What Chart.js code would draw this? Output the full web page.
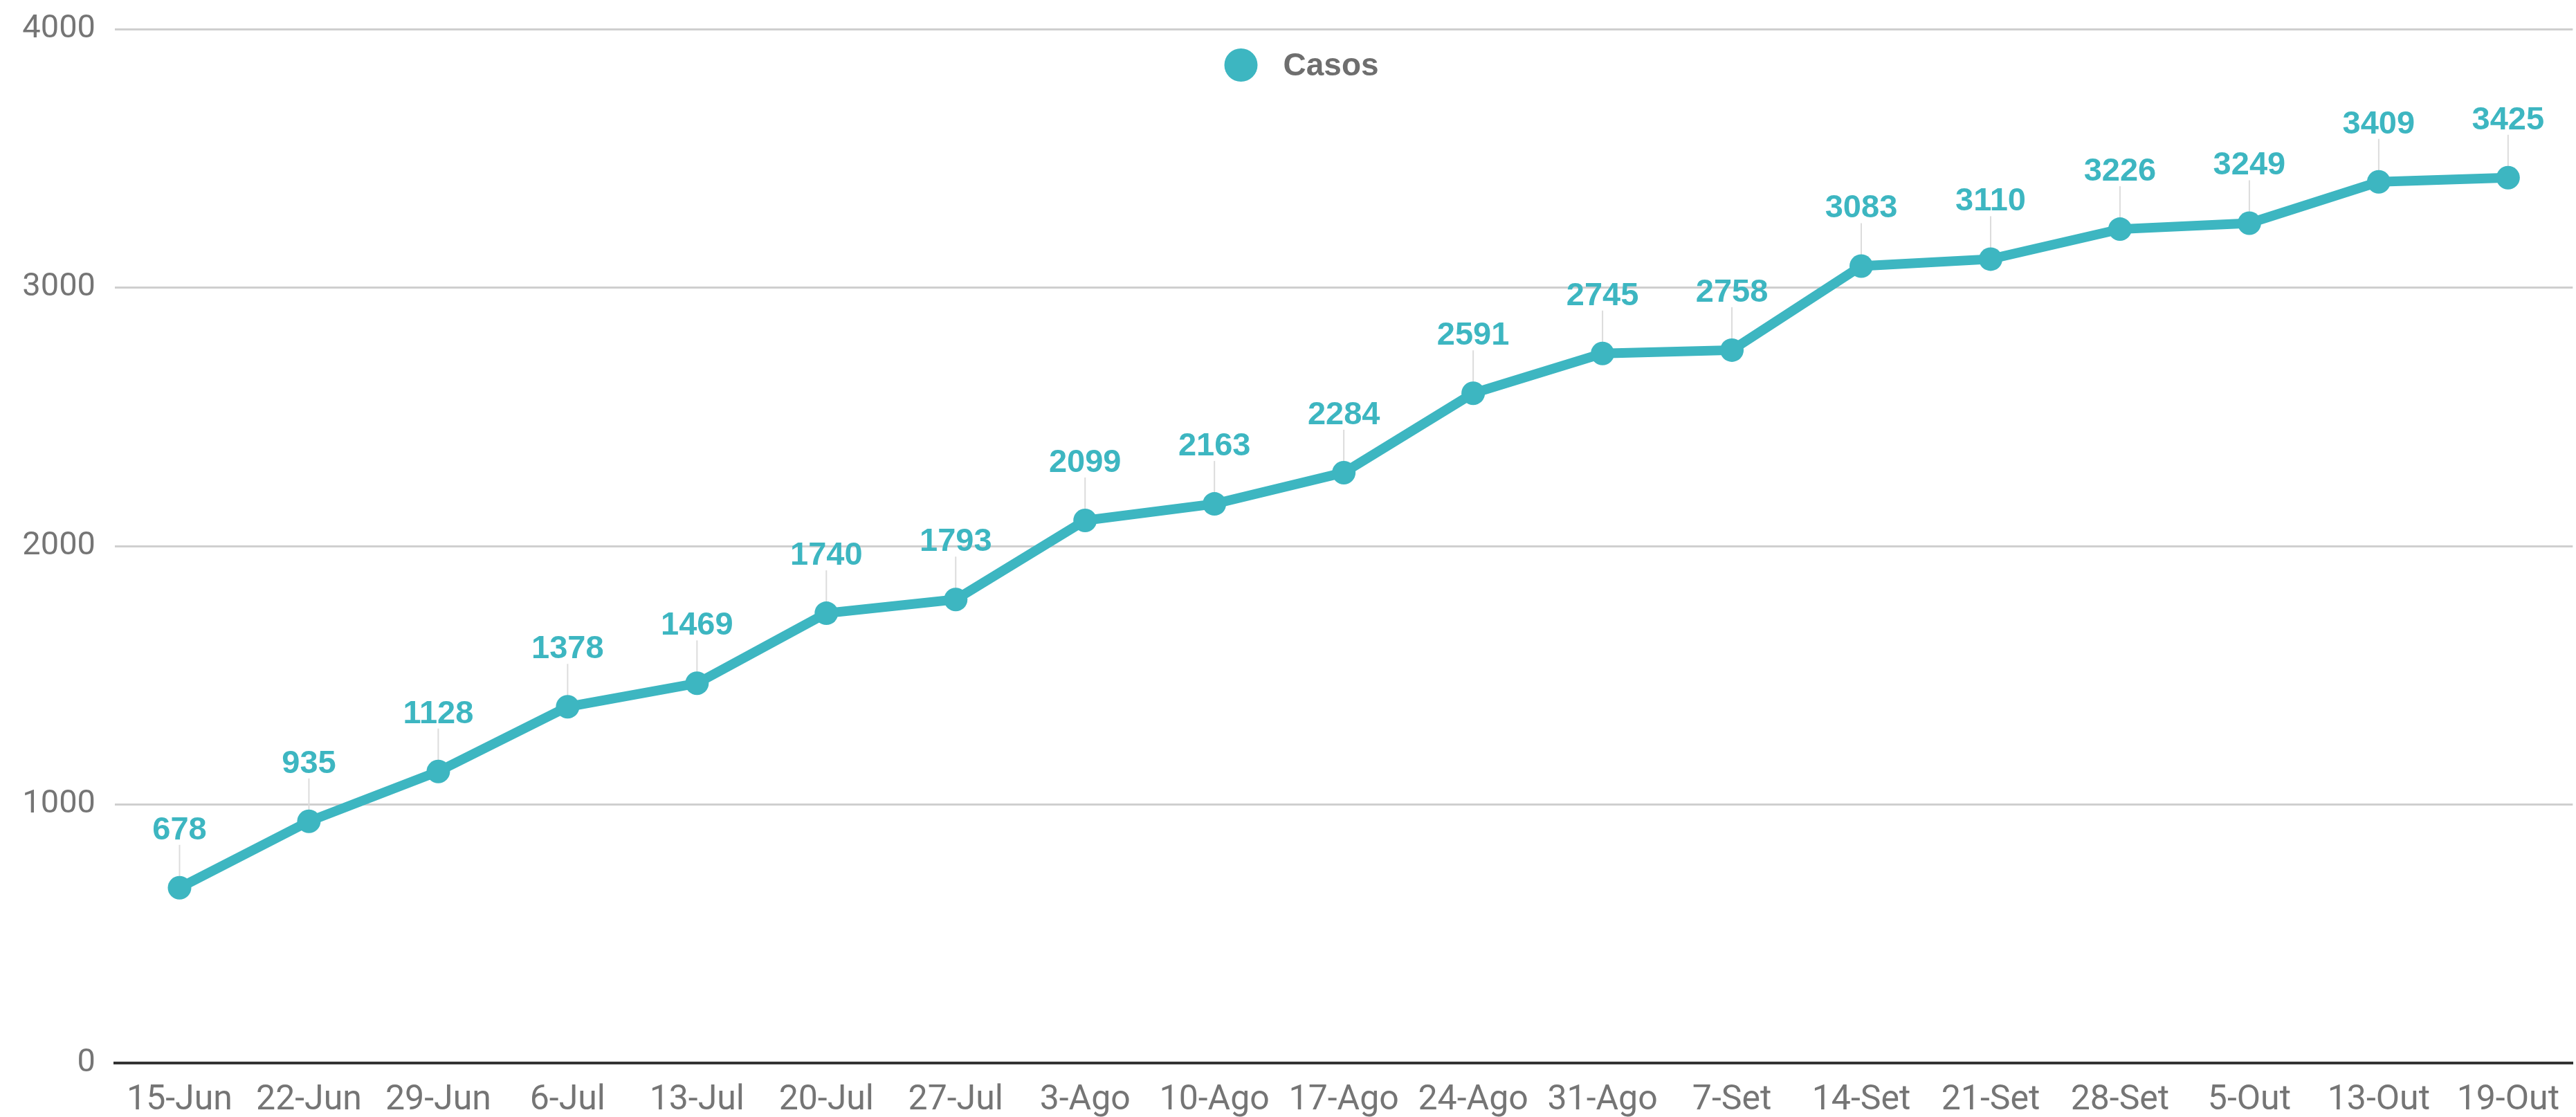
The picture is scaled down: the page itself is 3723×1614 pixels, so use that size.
<!DOCTYPE html>
<html>
<head>
<meta charset="utf-8">
<script src="https://cdn.jsdelivr.net/npm/chart.js@4.4.1/dist/chart.umd.min.js"></script>
<style>
  html, body { margin: 0; padding: 0; background: #fff; }
  #wrap { width: 3723px; height: 1614px; position: relative; }
</style>
</head>
<body>
<div id="wrap"><canvas id="casosChart"></canvas></div>
<script>
const semanas = ["15-Jun", "22-Jun", "29-Jun", "6-Jul", "13-Jul", "20-Jul", "27-Jul", "3-Ago", "10-Ago", "17-Ago",
  "24-Ago", "31-Ago", "7-Set", "14-Set", "21-Set", "28-Set", "5-Out", "13-Out", "19-Out"];
const casos = [678, 935, 1128, 1378, 1469, 1740, 1793, 2099, 2163, 2284,
  2591, 2745, 2758, 3083, 3110, 3226, 3249, 3409, 3425];
const yTicks = [0, 1000, 2000, 3000, 4000];

const cor = "#3db6c1";

// value labels with a thin leader line above each point
const rotulos = {
  id: "rotulos",
  beforeDatasetsDraw(chart) {
    const ctx = chart.ctx;
    const meta = chart.getDatasetMeta(0);
    ctx.save();
    ctx.strokeStyle = "#dcdcdc";
    ctx.lineWidth = 2;
    meta.data.forEach((pt) => {
      ctx.beginPath();
      ctx.moveTo(pt.x, pt.y - 62);
      ctx.lineTo(pt.x, pt.y);
      ctx.stroke();
    });
    ctx.restore();
  },
  afterDatasetsDraw(chart) {
    const ctx = chart.ctx;
    const meta = chart.getDatasetMeta(0);
    const vals = chart.data.datasets[0].data;
    ctx.save();
    ctx.fillStyle = cor;
    ctx.font = "bold 47px 'Liberation Sans', Arial, sans-serif";
    ctx.textAlign = "center";
    ctx.textBaseline = "alphabetic";
    meta.data.forEach((pt, i) => {
      ctx.fillText(String(vals[i]), pt.x, pt.y - 70);
    });
    ctx.restore();
  }
};

// legend drawn inside the plot, near the top
const legenda = {
  id: "legenda",
  afterDraw(chart) {
    const ctx = chart.ctx;
    const ds = chart.data.datasets[0];
    const cx = chart.width / 2 - 68;
    const cy = 94;
    ctx.save();
    ctx.fillStyle = ds.backgroundColor;
    ctx.beginPath();
    ctx.arc(cx, cy, 24, 0, Math.PI * 2);
    ctx.fill();
    ctx.fillStyle = "#6e6e6e";
    ctx.font = "bold 46px 'Liberation Sans', Arial, sans-serif";
    ctx.textAlign = "left";
    ctx.textBaseline = "middle";
    ctx.fillText(ds.label, cx + 61, cy + 2);
    ctx.restore();
  }
};

const ctx = document.getElementById("casosChart").getContext("2d");
new Chart(ctx, {
  type: "line",
  data: {
    labels: semanas,
    datasets: [
      {
        label: "Casos",
        data: casos,
        borderColor: cor,
        backgroundColor: cor,
        borderWidth: 14,
        pointRadius: 17,
        pointBackgroundColor: cor,
        pointBorderWidth: 0,
        tension: 0,
        fill: false,
      },
    ],
  },
  options: {
    responsive: true,
    maintainAspectRatio: false,
    animation: false,
    layout: { autoPadding: false, padding: { top: 42, left: 32, right: 0, bottom: 0 } },
    plugins: {
      legend: { display: false },
      tooltip: { enabled: false },
    },
    scales: {
      x: {
        offset: true,
        grid: { display: false, drawTicks: false },
        border: { display: true, color: "#333333", width: 4 },
        afterFit: (axis) => { axis.height = 78; },
        ticks: {
          color: "#757575",
          font: { family: "Roboto", size: 50 },
          padding: 24,
          maxRotation: 0,
          autoSkip: false,
        },
      },
      y: {
        min: 0,
        max: 4000,
        afterBuildTicks: (axis) => { axis.ticks = yTicks.map((v) => ({ value: v })); },
        afterFit: (axis) => { axis.width = 134; axis.paddingTop = 0; axis.paddingBottom = 0; },
        grid: { color: "#cfcfcf", lineWidth: 3, drawTicks: false },
        border: { display: false },
        ticks: {
          color: "#757575",
          font: { family: "Roboto", size: 47 },
          padding: 28,
          callback: (v) => String(v),
        },
      },
    },
  },
  plugins: [rotulos, legenda],
});
</script>
</body>
</html>
